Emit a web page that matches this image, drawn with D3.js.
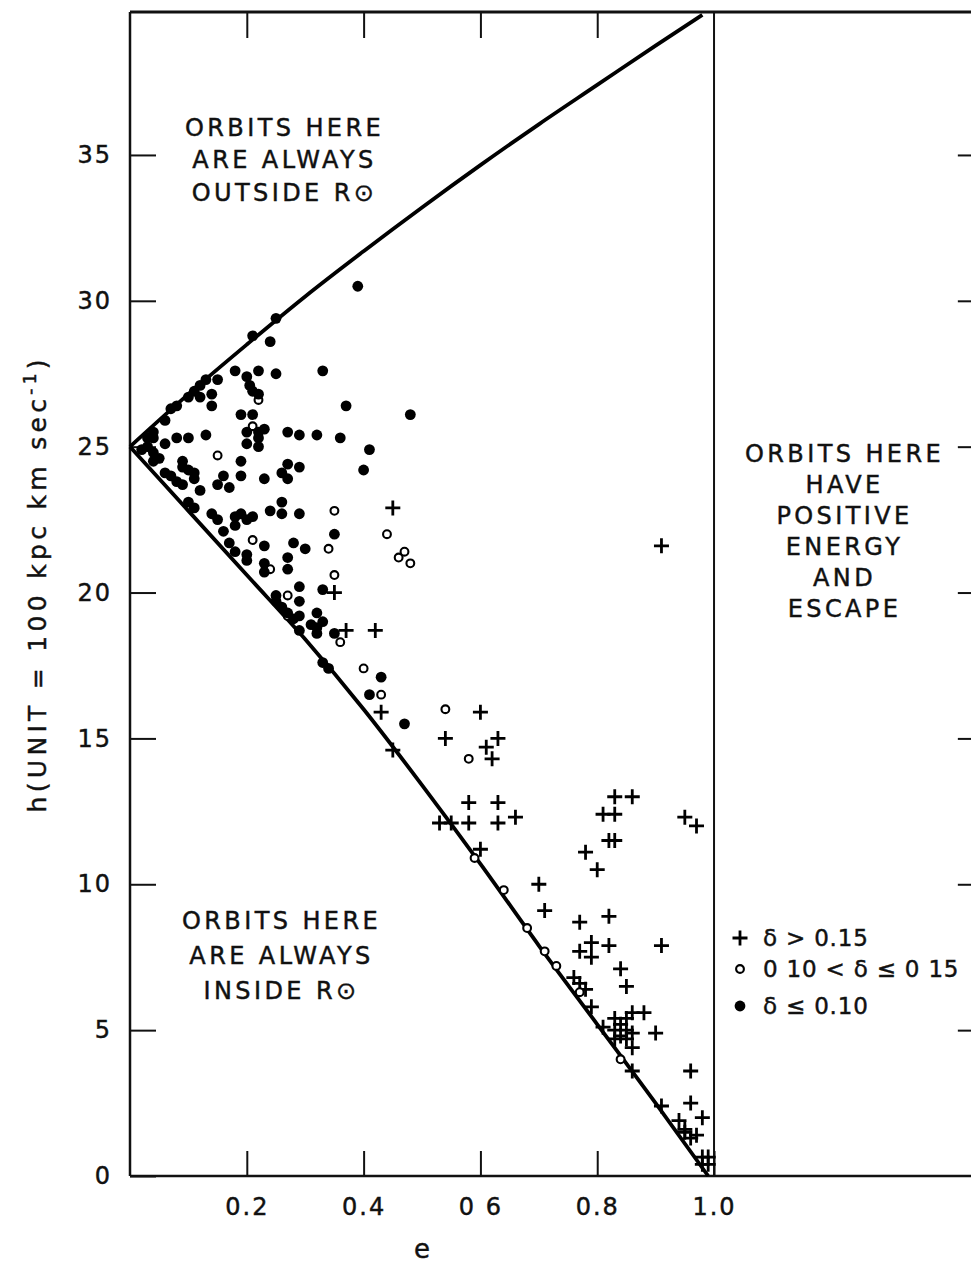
<!DOCTYPE html>
<html>
<head>
<meta charset="utf-8">
<script src="https://cdn.jsdelivr.net/npm/d3@7"></script>
<style>
  body { margin: 0; background: #fff; }
  svg text { font-family: "DejaVu Sans", sans-serif; fill: #111; stroke: #111; stroke-width: 0.45px; }
</style>
</head>
<body>
<div id="chart"></div>
<script>
// axis ticks
const eTicks = [0.2, 0.4, 0.6, 0.8, 1.0]
const eTickLabels = ["0.2", "0.4", "0 6", "0.8", "1.0"]
const hTicks = [0, 5, 10, 15, 20, 25, 30, 35]

// boundary curves (orbits touching R0)
const upperE = [0, 0.1, 0.2, 0.3, 0.4, 0.5, 0.6, 0.7, 0.8, 0.9, 0.98]
const upperH = [25, 26.8, 28.5, 30.15, 31.7, 33.2, 34.65, 36.05, 37.4, 38.75, 39.8]
const lowerE = [0, 0.1, 0.2, 0.3, 0.4, 0.5, 0.6, 0.7, 0.8, 0.9, 0.99]
const lowerH = [25, 22.8, 20.6, 18.4, 16.0, 13.4, 10.7, 7.9, 5.2, 2.5, 0]

// delta <= 0.10
const filledPts = [
  [0.25, 29.4], [0.21, 28.8], [0.24, 28.6], [0.18, 27.6], [0.20, 27.4], [0.22, 27.6], [0.25, 27.5],
  [0.33, 27.6], [0.205, 27.1], [0.21, 26.9], [0.22, 26.8], [0.15, 27.3], [0.14, 26.8], [0.12, 26.7],
  [0.14, 26.4], [0.19, 26.1], [0.21, 26.1], [0.20, 25.5], [0.22, 25.5], [0.23, 25.6], [0.20, 25.1],
  [0.22, 25.0], [0.22, 25.3], [0.27, 25.5], [0.29, 25.4], [0.32, 25.4], [0.13, 25.4], [0.08, 25.3],
  [0.10, 25.3], [0.06, 25.1], [0.04, 25.3], [0.09, 24.5], [0.19, 24.5], [0.27, 24.4], [0.29, 24.3],
  [0.07, 26.3], [0.08, 26.4], [0.10, 26.7], [0.11, 26.9], [0.12, 27.1], [0.13, 27.3], [0.06, 25.9],
  [0.04, 25.5], [0.03, 25.3], [0.03, 25.0], [0.04, 24.8], [0.05, 24.6], [0.04, 24.5], [0.02, 24.9],
  [0.06, 24.1], [0.09, 24.3], [0.10, 24.2], [0.11, 24.1], [0.07, 24.0], [0.16, 24.0], [0.19, 24.0],
  [0.23, 23.9], [0.26, 24.1], [0.11, 23.9], [0.09, 23.7], [0.08, 23.8], [0.15, 23.7], [0.17, 23.6],
  [0.27, 23.9], [0.12, 23.5], [0.10, 23.1], [0.11, 22.9], [0.14, 22.7], [0.15, 22.5], [0.18, 22.6],
  [0.19, 22.7], [0.20, 22.5], [0.18, 22.3], [0.21, 22.6], [0.24, 22.8], [0.26, 23.1], [0.26, 22.7],
  [0.29, 22.7], [0.16, 22.1], [0.17, 21.7], [0.23, 21.6], [0.28, 21.7], [0.30, 21.5], [0.18, 21.4],
  [0.20, 21.3], [0.20, 21.1], [0.23, 21.0], [0.23, 20.7], [0.27, 21.2], [0.27, 20.8], [0.25, 19.9],
  [0.25, 19.7], [0.26, 19.5], [0.27, 19.3], [0.29, 20.2], [0.29, 19.7], [0.28, 19.1], [0.29, 19.2],
  [0.32, 18.8], [0.39, 30.5], [0.37, 26.4], [0.48, 26.1], [0.36, 25.3], [0.41, 24.9], [0.40, 24.2],
  [0.35, 22.0], [0.33, 20.1], [0.32, 19.3], [0.33, 19.0], [0.31, 18.9], [0.32, 18.6], [0.35, 18.6],
  [0.29, 18.7], [0.33, 17.6], [0.34, 17.4], [0.43, 17.1], [0.41, 16.5], [0.47, 15.5]
]

// 0.10 < delta <= 0.15
const openPts = [
  [0.22, 26.6], [0.21, 25.7], [0.15, 24.7], [0.21, 21.8], [0.24, 20.8], [0.27, 19.9], [0.27, 19.2],
  [0.35, 22.8], [0.44, 22.0], [0.46, 21.2], [0.47, 21.4], [0.48, 21.0], [0.34, 21.5], [0.35, 20.6],
  [0.36, 18.3], [0.40, 17.4], [0.43, 16.5], [0.54, 16.0], [0.58, 14.3], [0.59, 10.9], [0.64, 9.8],
  [0.68, 8.5], [0.71, 7.7], [0.73, 7.2], [0.77, 6.3], [0.84, 4.0]
]

// delta > 0.15
const plusPts = [
  [0.45, 22.9], [0.35, 20.0], [0.37, 18.7], [0.42, 18.7], [0.43, 15.9], [0.45, 14.6], [0.60, 15.9],
  [0.54, 15.0], [0.63, 15.0], [0.61, 14.7], [0.62, 14.3], [0.58, 12.8], [0.63, 12.8], [0.58, 12.1],
  [0.63, 12.1], [0.66, 12.3], [0.53, 12.1], [0.55, 12.1], [0.60, 11.2], [0.83, 13.0], [0.86, 13.0],
  [0.81, 12.4], [0.83, 12.4], [0.95, 12.3], [0.97, 12.0], [0.82, 11.5], [0.83, 11.5], [0.78, 11.1],
  [0.80, 10.5], [0.70, 10.0], [0.71, 9.1], [0.77, 8.7], [0.82, 8.9], [0.79, 8.0], [0.82, 7.9],
  [0.77, 7.7], [0.79, 7.5], [0.91, 7.9], [0.76, 6.8], [0.77, 6.6], [0.78, 6.4], [0.84, 7.1],
  [0.85, 6.5], [0.79, 5.8], [0.86, 5.6], [0.88, 5.6], [0.83, 5.4], [0.85, 5.4], [0.83, 5.0],
  [0.85, 5.0], [0.86, 4.9], [0.83, 4.7], [0.85, 4.7], [0.86, 4.4], [0.81, 5.1], [0.90, 4.9],
  [0.84, 5.2], [0.84, 4.8], [0.86, 3.6], [0.96, 3.6], [0.91, 2.4], [0.96, 2.5], [0.98, 2.0],
  [0.94, 1.9], [0.95, 1.6], [0.95, 1.5], [0.97, 1.4], [0.96, 1.3], [0.98, 0.65], [0.99, 0.65],
  [0.98, 0.4], [0.99, 0.4], [0.91, 21.6]
]

const W = 971, H = 1268
const svg = d3.select("#chart").append("svg")
    .attr("width", W)
    .attr("height", H)

const x = d3.scaleLinear().domain([0, 1.44]).range([130, 971])
const y = d3.scaleLinear().domain([0, 39.9]).range([1176, 12])
const eMax = 1.45

// frame
const frame = svg.append("g").attr("stroke", "#111").attr("fill", "none")
frame.append("line").attr("x1", x(0)).attr("x2", x(0)).attr("y1", y(39.9)).attr("y2", y(0)).attr("stroke-width", 2.5)
frame.append("line").attr("x1", x(0)).attr("x2", x(eMax)).attr("y1", y(0)).attr("y2", y(0)).attr("stroke-width", 2.5)
frame.append("line").attr("x1", x(0)).attr("x2", x(eMax)).attr("y1", y(39.9)).attr("y2", y(39.9)).attr("stroke-width", 3)
frame.append("line").attr("x1", x(1)).attr("x2", x(1)).attr("y1", y(39.9)).attr("y2", y(0)).attr("stroke-width", 2)

// axes
const fontTick = g => g.selectAll("text")
    .style("font-size", "24px")
    .style("letter-spacing", "2px")
    .attr("fill", "#111")

const yAxis = svg.append("g")
    .attr("transform", `translate(${x(0)},0)`)
    .call(d3.axisLeft(y).tickValues(hTicks).tickSizeInner(-26).tickSizeOuter(0).tickPadding(18))
yAxis.select(".domain").remove()
yAxis.selectAll("line").attr("stroke", "#111").attr("stroke-width", 2)
yAxis.call(fontTick)

const xAxis = svg.append("g")
    .attr("transform", `translate(0,${y(0)})`)
    .call(d3.axisBottom(x).tickValues(eTicks).tickSizeInner(-25).tickSizeOuter(0).tickPadding(22)
        .tickFormat((d, i) => eTickLabels[i]))
xAxis.select(".domain").remove()
xAxis.selectAll("line").attr("stroke", "#111").attr("stroke-width", 2)
xAxis.call(fontTick)

const topAxis = svg.append("g")
    .attr("transform", `translate(0,${y(39.9)})`)
    .call(d3.axisTop(x).tickValues(eTicks.slice(0, 4)).tickSizeInner(-26).tickSizeOuter(0).tickFormat(""))
topAxis.select(".domain").remove()
topAxis.selectAll("line").attr("stroke", "#111").attr("stroke-width", 2)

const rightAxis = svg.append("g")
    .attr("transform", `translate(${x(eMax)},0)`)
    .call(d3.axisRight(y).tickValues(hTicks.slice(1)).tickSizeInner(-19).tickSizeOuter(0).tickFormat(""))
rightAxis.select(".domain").remove()
rightAxis.selectAll("line").attr("stroke", "#111").attr("stroke-width", 2)

// axis titles
svg.append("text")
    .attr("x", x(0.5)).attr("y", 1258)
    .attr("text-anchor", "middle")
    .style("font-size", "26px")
    .text("e")

const yTitle = svg.append("text")
    .attr("transform", `translate(46,${y(20.3)}) rotate(-90)`)
    .attr("text-anchor", "middle")
    .style("font-size", "25px")
    .style("letter-spacing", "4.3px")
yTitle.append("tspan").text("h(UNIT = 100 kpc km sec")
yTitle.append("tspan").attr("dy", -10).style("font-size", "17px").text("-1")
yTitle.append("tspan").attr("dy", 10).text(")")

// boundary curves
const curve = d3.line().x(d => x(d[0])).y(d => y(d[1])).curve(d3.curveMonotoneX)
svg.append("path")
    .datum(upperE.map((e, i) => [e, upperH[i]]))
    .attr("d", curve)
    .attr("fill", "none").attr("stroke", "#000").attr("stroke-width", 3.8)
svg.append("path")
    .datum(lowerE.map((e, i) => [e, lowerH[i]]))
    .attr("d", curve)
    .attr("fill", "none").attr("stroke", "#000").attr("stroke-width", 3.8)

// data marks
const plusPath = "M-7.5,0H7.5M0,-7.5V7.5"
svg.append("g").selectAll("path")
    .data(plusPts)
    .join("path")
    .attr("transform", d => `translate(${x(d[0])},${y(d[1])})`)
    .attr("d", plusPath)
    .attr("stroke", "#000").attr("stroke-width", 2.8)

svg.append("g").selectAll("circle")
    .data(openPts)
    .join("circle")
    .attr("cx", d => x(d[0])).attr("cy", d => y(d[1]))
    .attr("r", 3.9)
    .attr("fill", "#fff").attr("stroke", "#000").attr("stroke-width", 2.1)

svg.append("g").selectAll("circle")
    .data(filledPts)
    .join("circle")
    .attr("cx", d => x(d[0])).attr("cy", d => y(d[1]))
    .attr("r", 5.4)
    .attr("fill", "#000")

// region annotations
const notes = [
  {cx: 283, top: 127, lines: ["ORBITS HERE", "ARE ALWAYS", "OUTSIDE R⊙"], gap: 32.5},
  {cx: 280, top: 920, lines: ["ORBITS HERE", "ARE ALWAYS", "INSIDE R⊙"], gap: 35},
  {cx: 843, top: 453, lines: ["ORBITS HERE", "HAVE", "POSITIVE", "ENERGY", "AND", "ESCAPE"], gap: 31}
]
notes.forEach(n => {
  svg.append("g").selectAll("text")
      .data(n.lines)
      .join("text")
      .attr("x", n.cx + 1.5)
      .attr("y", (d, i) => n.top + i * n.gap)
      .attr("dy", "0.36em")
      .attr("text-anchor", "middle")
      .style("font-size", "24px")
      .style("letter-spacing", "3.4px")
      .text(d => d)
})

// legend
const legendItems = ["δ > 0.15", "0 10 < δ ≤ 0 15", "δ ≤ 0.10"]
const legend = svg.append("g").attr("transform", "translate(740,938)")
legend.append("path").attr("d", plusPath).attr("stroke", "#000").attr("stroke-width", 2.8)
legend.append("circle").attr("cy", 31).attr("r", 3.9).attr("fill", "#fff").attr("stroke", "#000").attr("stroke-width", 2.1)
legend.append("circle").attr("cy", 68).attr("r", 5.4).attr("fill", "#000")
legend.selectAll("text.lab")
    .data(legendItems)
    .join("text")
    .attr("class", "lab")
    .attr("x", 23)
    .attr("y", (d, i) => [0, 31, 68][i])
    .attr("dy", "0.36em")
    .style("font-size", "23px")
    .style("letter-spacing", "0.8px")
    .text(d => d)
</script>
</body>
</html>
